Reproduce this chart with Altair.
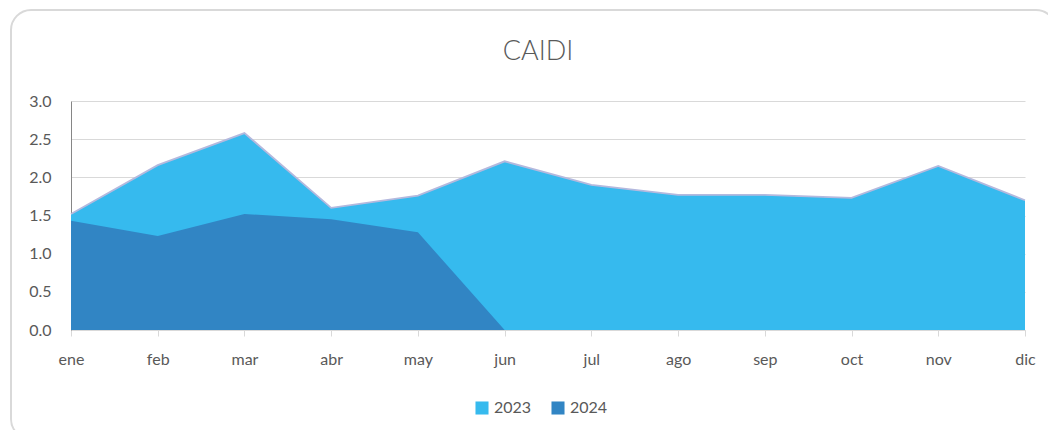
import altair as alt
import pandas as pd

months = ["ene", "feb", "mar", "abr", "may", "jun", "jul", "ago", "sep", "oct", "nov", "dic"]
caidi_2023 = [1.52, 2.16, 2.58, 1.60, 1.76, 2.21, 1.90, 1.77, 1.77, 1.73, 2.15, 1.70]
caidi_2024 = [1.43, 1.23, 1.52, 1.45, 1.28, 0.0]
years = ["2023", "2024"]
colors = ["#36baee", "#3185c4"]
y_ticks = [0, 0.5, 1, 1.5, 2, 2.5, 3]
title_text = "CAIDI"

rows = []
for m, v in zip(months, caidi_2023):
    rows.append({"mes": m, "valor": v, "año": "2023"})
for m, v in zip(months, caidi_2024):
    rows.append({"mes": m, "valor": v, "año": "2024"})
df = pd.DataFrame(rows)

FONT = "Lato"
GRAY = "#595959"

x = alt.X("mes:N", sort=months, scale=alt.Scale(type="point", padding=0),
          axis=alt.Axis(title=None, labelAngle=0, labelColor=GRAY, labelFontSize=16,
                        labelFont=FONT, tickColor="#d9d9d9", tickSize=6, labelPadding=15,
                        domainColor="#d9d9d9", grid=False))
y = alt.Y("valor:Q", stack=None, scale=alt.Scale(domain=[0, 3], nice=False, zero=True),
          axis=alt.Axis(title=None, values=y_ticks, format=".1f", tickCount=7,
                        labelColor=GRAY, labelFontSize=16, labelFont=FONT, ticks=False,
                        labelPadding=20, domainColor="#868686", gridColor="#d9d9d9",
                        labelOverlap=False))

border = alt.Chart(pd.DataFrame({"k": [0]})).mark_rect(
    fill="white", fillOpacity=0, stroke="#d9d9d9", strokeWidth=2, cornerRadius=20
).encode(x=alt.value(-60), x2=alt.value(985), y=alt.value(-91), y2=alt.value(338))

title = alt.Chart(pd.DataFrame({"t": [title_text]})).mark_text(
    font=FONT, fontSize=27, fontWeight=300, color=GRAY, align="center", baseline="middle"
).encode(text="t:N", x=alt.value(467), y=alt.value(-49))

areas = alt.Chart(df).mark_area(line=False).encode(
    x=x,
    y=y,
    color=alt.Color("año:N", scale=alt.Scale(domain=years, range=colors),
                    legend=alt.Legend(title=None, orient="none", direction="horizontal",
                                      legendX=403, legendY=299, labelFont=FONT,
                                      labelFontSize=16, labelColor=GRAY, symbolType="square",
                                      symbolSize=170, columnPadding=18, symbolStrokeWidth=0,
                                      labelOffset=4)),
    order=alt.Order("año:N"),
)

outline = alt.Chart(df[df["año"] == "2023"]).mark_line(color="#b4b9de", strokeWidth=1.8).encode(
    x=x, y=y
)

chart = alt.layer(border, title, areas, outline).properties(
    width=954, height=229,
    autosize=alt.AutoSizeParams(type="none"),
    padding={"left": 63, "top": 93, "right": 23, "bottom": 100},
    background="white",
).configure_view(stroke=None)

chart.save("out.html", embed_options={"renderer": "svg", "actions": False})
